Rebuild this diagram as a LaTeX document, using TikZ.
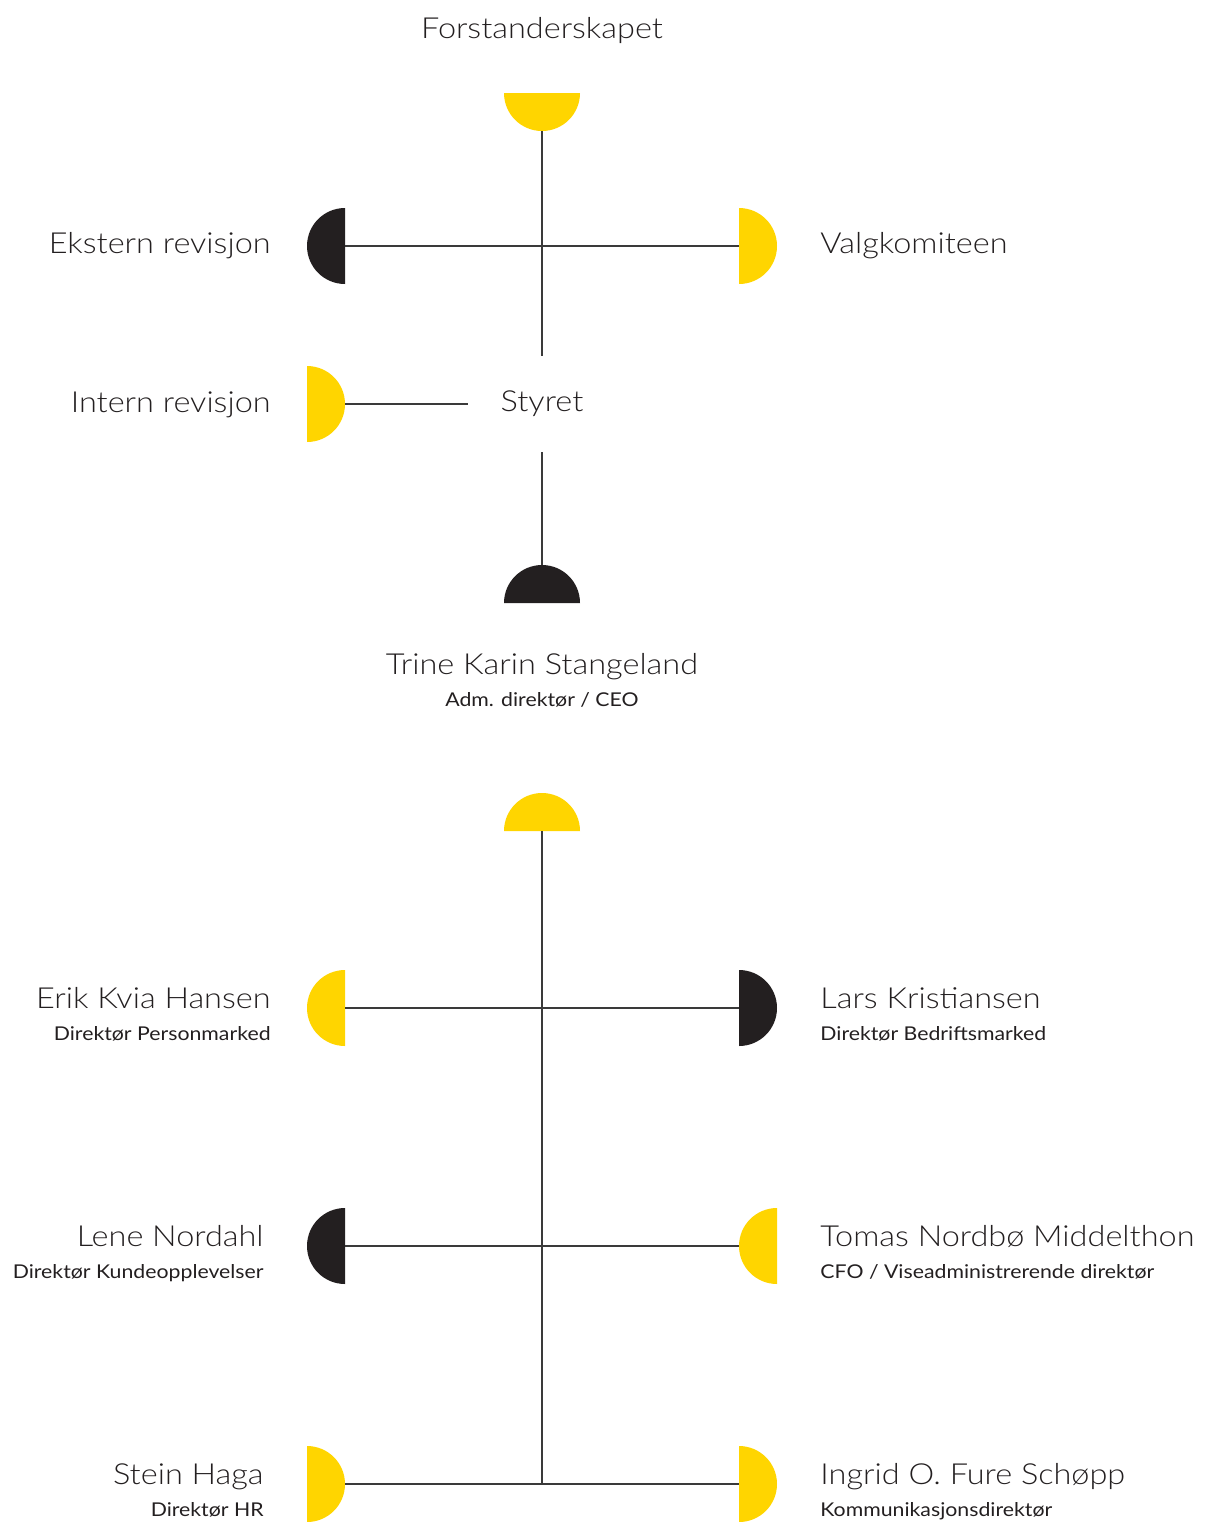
\documentclass[tikz,border=0pt]{standalone}
\usepackage{fontspec}
\setmainfont{Lato}[FakeStretch=1.12]
\newfontfamily\lightfont{Lato Light}[FakeStretch=1.12]
\usetikzlibrary{positioning}
\definecolor{gold}{HTML}{FFD500}
\definecolor{ink}{HTML}{231F20}
\definecolor{rule}{HTML}{3A3A3A}

\begin{document}
\begin{tikzpicture}[x=0.5pt,y=-0.5pt]
  % Styles
  \tikzset{
    title/.style={font=\lightfont\fontsize{14.5}{17}\selectfont, text=ink, inner sep=0pt},
    role/.style={font=\fontsize{9.5}{11}\selectfont, text=ink, inner sep=0pt},
    link/.style={draw=rule, line width=0.6pt},
    golddisc/.style={fill=gold},
    inkdisc/.style={fill=ink},
  }
  \useasboundingbox (0,0) rectangle (1205,1522);

  % Governing bodies
  \node[title, anchor=base] (forst) at (542,38) {Forstanderskapet};
  \fill[golddisc] (504,93) arc[start angle=180, end angle=0, radius=38] -- cycle;
  \coordinate (forstdisc) at (542,131);

  \fill[inkdisc] (345,208) arc[start angle=270, end angle=90, radius=38] -- cycle;
  \coordinate (eksterndisc) at (345,246);
  \node[title, anchor=base east] (ekstern) at (271,253) {Ekstern revisjon};

  \fill[golddisc] (739,208) arc[start angle=-90, end angle=90, radius=38] -- cycle;
  \coordinate (valgdisc) at (739,246);
  \node[title, anchor=base west] (valg) at (820,253) {Valgkomiteen};

  \fill[golddisc] (307,366) arc[start angle=-90, end angle=90, radius=38] -- cycle;
  \coordinate (interndisc) at (345,404);
  \node[title, anchor=base east] (intern) at (271,412) {Intern revisjon};

  \node[title, minimum width=74pt, minimum height=48pt] (styret) at (542,404) {Styret};

  \fill[inkdisc] (504,603) arc[start angle=180, end angle=360, radius=38] -- cycle;
  \coordinate (ceodisc) at (542,565);
  \node[title, anchor=base] (ceo) at (542,674) {Trine Karin Stangeland};
  \node[role, anchor=base] (ceorole) at (542,706) {Adm. direktør / CEO};

  % Links (board)
  \draw[link] (forstdisc) -- (styret.north);
  \draw[link] (eksterndisc) -- (valgdisc);
  \draw[link] (interndisc) -- (styret.west);
  \draw[link] (styret.south) -- (ceodisc);

  % Management
  \fill[golddisc] (504,831) arc[start angle=180, end angle=360, radius=38] -- cycle;
  \coordinate (mgmtdisc) at (542,831);

  \fill[golddisc] (345,970) arc[start angle=270, end angle=90, radius=38] -- cycle;
  \coordinate (erikdisc) at (345,1008);
  \node[title, anchor=base east] (erik) at (271,1008) {Erik Kvia Hansen};
  \node[role, anchor=base east] (erikrole) at (271,1040) {Direktør Personmarked};

  \fill[inkdisc] (739,970) arc[start angle=-90, end angle=90, radius=38] -- cycle;
  \coordinate (larsdisc) at (739,1008);
  \node[title, anchor=base west] (lars) at (820,1008) {Lars Kristiansen};
  \node[role, anchor=base west] (larsrole) at (820,1040) {Direktør Bedriftsmarked};

  \fill[inkdisc] (345,1208) arc[start angle=270, end angle=90, radius=38] -- cycle;
  \coordinate (lenedisc) at (345,1246);
  \node[title, anchor=base east] (lene) at (264,1246) {Lene Nordahl};
  \node[role, anchor=base east] (lenerole) at (264,1278) {Direktør Kundeopplevelser};

  \fill[golddisc] (777,1208) arc[start angle=270, end angle=90, radius=38] -- cycle;
  \coordinate (tomasdisc) at (739,1246);
  \node[title, anchor=base west] (tomas) at (820,1246) {Tomas Nordbø Middelthon};
  \node[role, anchor=base west] (tomasrole) at (820,1278) {CFO / Viseadministrerende direktør};

  \fill[golddisc] (307,1446) arc[start angle=-90, end angle=90, radius=38] -- cycle;
  \coordinate (steindisc) at (345,1484);
  \node[title, anchor=base east] (stein) at (264,1484) {Stein Haga};
  \node[role, anchor=base east] (steinrole) at (264,1516) {Direktør HR};

  \fill[golddisc] (739,1446) arc[start angle=-90, end angle=90, radius=38] -- cycle;
  \coordinate (ingriddisc) at (739,1484);
  \node[title, anchor=base west] (ingrid) at (820,1484) {Ingrid O. Fure Schøpp};
  \node[role, anchor=base west] (ingridrole) at (820,1516) {Kommunikasjonsdirektør};

  % Links (management)
  \draw[link] (mgmtdisc) -- (mgmtdisc |- steindisc);
  \draw[link] (erikdisc) -- (larsdisc);
  \draw[link] (lenedisc) -- (tomasdisc);
  \draw[link] (steindisc) -- (ingriddisc);
\end{tikzpicture}
\end{document}
